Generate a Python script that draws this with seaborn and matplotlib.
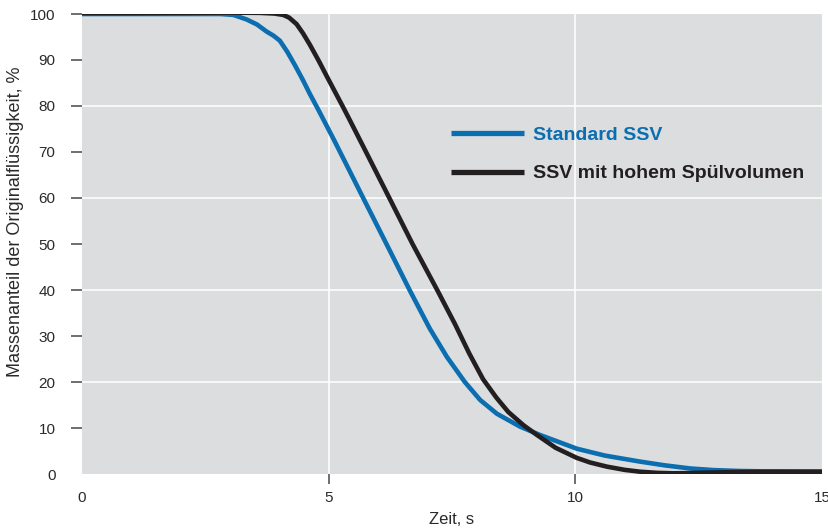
import matplotlib
matplotlib.use("Agg")
import matplotlib.pyplot as plt
import seaborn as sns
import pandas as pd
from matplotlib.lines import Line2D

# --- data ---
std_x = [0, 1, 2, 2.8, 3.07, 3.34, 3.55, 3.74, 3.88, 4.01, 4.16, 4.32, 4.48, 4.62, 4.78, 5.09, 5.4, 5.7, 6.2, 6.64,
         7.05, 7.4, 7.76, 8.07, 8.41, 8.88, 9.28, 10.03, 10.6, 11.31, 11.8, 12.33, 12.8, 13.34, 14, 15]
std_y = [100, 100, 100, 100, 99.8, 98.8, 97.7, 96.2, 95.3, 94.2, 91.8, 88.8, 85.6, 82.6, 79.4, 73.0, 66.4, 60.0, 49.4, 40.0,
         31.6, 25.4, 20.0, 16.1, 13.1, 10.3, 8.5, 5.5, 4.0, 2.7, 1.9, 1.2, 0.85, 0.65, 0.55, 0.5]
hi_x = [0, 1, 2, 3, 3.6, 3.9, 4.08, 4.2, 4.35, 4.48, 4.62, 4.8, 4.96, 5.3, 5.43, 5.8, 6.23, 6.7, 7.2, 7.56,
        7.85, 8.13, 8.4, 8.64, 8.95, 9.22, 9.6, 10.03, 10.3, 10.64, 11.0, 11.31, 11.65, 11.99, 12.3, 12.66, 13.34, 14, 15]
hi_y = [100.2, 100.2, 100.25, 100.3, 100.25, 100.1, 99.8, 99.2, 97.8, 95.8, 93.3, 89.8, 86.5, 79.6, 76.9, 69.1, 60.0, 50.0, 40.0, 32.6,
        26.2, 20.6, 16.6, 13.5, 10.6, 8.5, 5.7, 3.5, 2.5, 1.6, 0.9, 0.5, 0.25, 0.15, 0.2, 0.3, 0.43, 0.5, 0.5]

series_labels = ["Standard SSV", "SSV mit hohem Spülvolumen"]
x_ticks = [0, 5, 10, 15]
y_ticks = [0, 10, 20, 30, 40, 50, 60, 70, 80, 90, 100]
grid_x = [5, 10]
grid_y = [20, 40, 60, 80]

df = pd.concat([
    pd.DataFrame({"Zeit": std_x, "Wert": std_y, "Serie": series_labels[0]}),
    pd.DataFrame({"Zeit": hi_x, "Wert": hi_y, "Serie": series_labels[1]}),
])

sns.set_theme(style="white")
plt.rcParams["font.family"] = ["Liberation Sans", "DejaVu Sans"]

blue = "#0a6eb0"
black = "#231f20"
fig = plt.figure(figsize=(8.29, 5.32), dpi=100)
ax = fig.add_axes([82 / 829, 58 / 532, 740 / 829, 460 / 532])
ax.set_facecolor("#dcdddf")

for gx in grid_x:
    ax.axvline(gx, color="white", lw=1.1, zorder=0.5)
for gy in grid_y:
    ax.axhline(gy, color="white", lw=1.1, zorder=0.5)

sns.lineplot(data=df, x="Zeit", y="Wert", hue="Serie", palette=[blue, black],
             linewidth=3.3, ax=ax, legend=False, sort=False, estimator=None)
for ln in ax.lines[-2:]:
    ln.set_solid_capstyle("butt")
    ln.set_solid_joinstyle("round")

ax.set_xlim(0, 15)
ax.set_ylim(0, 100)
for s in ax.spines.values():
    s.set_visible(False)

ax.set_xticks(x_ticks)
ax.set_yticks(y_ticks)
ax.set_xticklabels([str(v) for v in x_ticks])
ax.set_yticklabels([str(v) for v in y_ticks])
ax.tick_params(axis="y", direction="out", length=8, width=1.2, color="#555555",
               pad=11, labelsize=11, labelcolor="#2a2a2a", left=True)
ax.tick_params(axis="x", direction="out", length=7, width=1.2, color="#555555",
               pad=5, labelsize=11, labelcolor="#2a2a2a", bottom=True)
xt = ax.xaxis.get_major_ticks()
xt[0].tick1line.set_visible(False)
xt[-1].tick1line.set_visible(False)
ax.yaxis.get_major_ticks()[0].tick1line.set_visible(False)

ax.set_xlabel("Zeit, s", fontsize=12, color="#2a2a2a", labelpad=5)
ax.set_ylabel("Massenanteil der Originalflüssigkeit, %", fontsize=13, color="#2a2a2a")
ax.yaxis.set_label_coords(-0.0784, 0.548)

handles = [Line2D([], [], color=blue, lw=3.8, solid_capstyle="butt"),
           Line2D([], [], color=black, lw=3.8, solid_capstyle="butt")]
leg = ax.legend(handles, series_labels, loc="upper left", bbox_to_anchor=(0.499, 0.756),
                frameon=False, borderpad=0, borderaxespad=0, handlelength=3.75,
                handletextpad=0.45, labelspacing=1.08,
                prop={"weight": "bold", "size": 14})
for t, c in zip(leg.get_texts(), [blue, black]):
    t.set_color(c)

fig.savefig("out.png", dpi=100)
